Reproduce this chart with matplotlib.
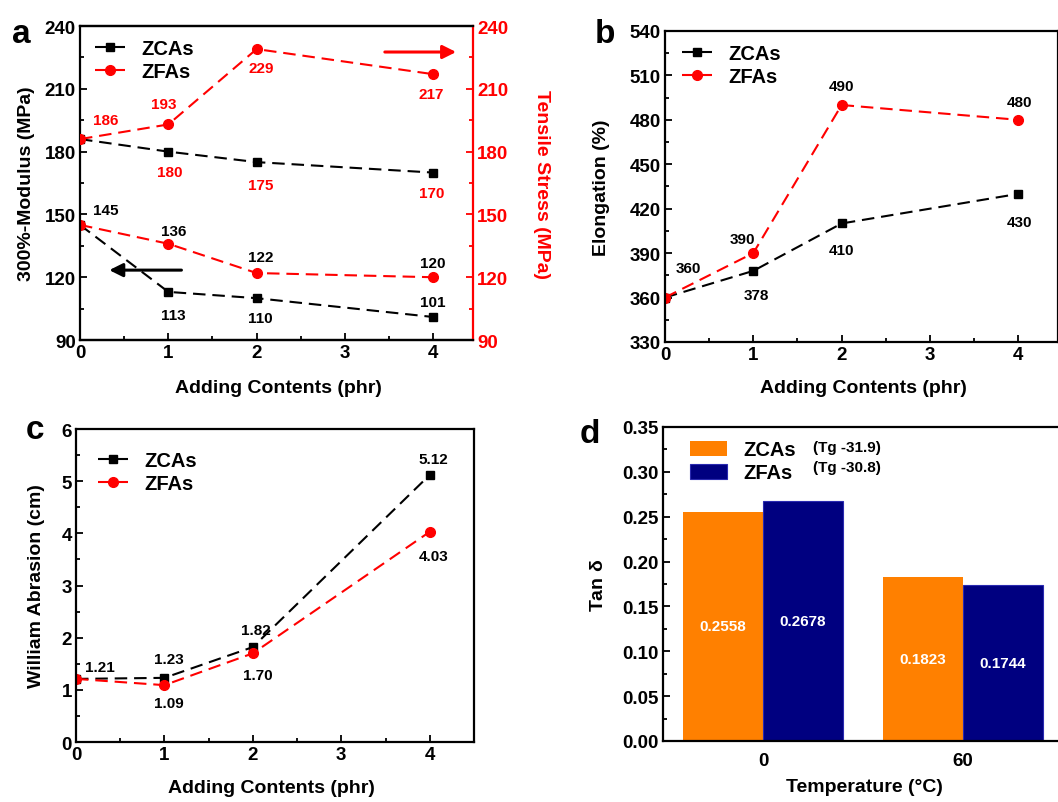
import numpy as np
import matplotlib
matplotlib.use('Agg')
import matplotlib.pyplot as plt
from matplotlib.ticker import MultipleLocator

plt.rcParams['font.family'] = ['Liberation Sans', 'DejaVu Sans']
plt.rcParams['font.weight'] = 'bold'
plt.rcParams['axes.labelweight'] = 'bold'
plt.rcParams['mathtext.default'] = 'regular'

# data
x_add = [0, 1, 2, 4]
mod_zcas = [145, 113, 110, 101]
mod_zfas = [145, 136, 122, 120]
ts_zcas = [186, 180, 175, 170]
ts_zfas = [186, 193, 229, 217]
elong_zcas = [360, 378, 410, 430]
elong_zfas = [360, 390, 490, 480]
abr_zcas = [1.21, 1.23, 1.82, 5.12]
abr_zfas = [1.21, 1.09, 1.70, 4.03]
temps = ['0', '60']
tan_zcas = [0.2558, 0.1823]
tan_zfas = [0.2678, 0.1744]
tg_zcas = '(Tg -31.9)'
tg_zfas = '(Tg -30.8)'

RED = '#ff0000'
ORANGE = '#ff8000'
NAVY = '#000080'
DASH = (0, (6, 3.3))
TICK = 13.5
LAB = 14
ANN = 11

fig = plt.figure(figsize=(10.58, 8.03), dpi=100)


def style(ax, xmaj, xmin, ymaj, ymin):
    ax.xaxis.set_major_locator(MultipleLocator(xmaj))
    if xmin:
        ax.xaxis.set_minor_locator(MultipleLocator(xmin))
    ax.yaxis.set_major_locator(MultipleLocator(ymaj))
    ax.yaxis.set_minor_locator(MultipleLocator(ymin))
    ax.tick_params(which='both', direction='in', width=1.3, labelsize=TICK, pad=3,
                   top=False, right=False)
    ax.tick_params(which='major', length=5)
    ax.tick_params(which='minor', length=3)
    for s in ax.spines.values():
        s.set_linewidth(1.6)


def label_pts(ax, xs, ys, fmt, offs, color):
    for x, y, o in zip(xs, ys, offs):
        if o is None:
            continue
        ax.annotate(fmt.format(y), (x, y), xytext=o, textcoords='offset pixels',
                    ha='center', va='center', fontsize=ANN, color=color,
                    fontweight='bold')


def lines(ax, yb, yr, lbl=True):
    ax.plot(x_add, yb, color='black', ls=DASH, lw=1.5, marker='s', ms=6,
            label='ZCAs' if lbl else None)
    ax.plot(x_add, yr, color=RED, ls=DASH, lw=1.5, marker='o', ms=7,
            label='ZFAs' if lbl else None)


def legend(ax, x, y):
    ax.legend(loc='upper left', bbox_to_anchor=(x, y), frameon=False, fontsize=14.5,
              borderpad=0, borderaxespad=0, handlelength=1.5, handletextpad=0.8,
              labelspacing=0.2)


# ---- panel a
ax = fig.add_axes([0.0756, 0.5753, 0.3715, 0.3910])
ax2 = ax.twinx()
lines(ax, mod_zcas, mod_zfas)
lines(ax2, ts_zcas, ts_zfas, lbl=False)
for a in (ax, ax2):
    a.set_xlim(0, 4.45)
    a.set_ylim(90, 240)
style(ax, 1, 0.5, 30, 15)
ax2.yaxis.set_major_locator(MultipleLocator(30))
ax2.yaxis.set_minor_locator(MultipleLocator(15))
ax2.tick_params(which='both', direction='in', width=1.3, labelsize=TICK, pad=3,
                colors=RED, left=False, right=True)
ax2.tick_params(which='major', length=5)
ax2.tick_params(which='minor', length=3)
for s in ax2.spines.values():
    s.set_linewidth(1.6)
ax2.spines['right'].set_color(RED)
ax2.spines['left'].set_visible(False)
ax.spines['right'].set_visible(False)

label_pts(ax, x_add, mod_zcas, '{:d}', [(26, 15), (5, -23), (4, -20), (-1, 15)], 'black')
label_pts(ax, x_add, mod_zfas, '{:d}', [None, (5, 13), (4, 16), (-1, 14)], 'black')
label_pts(ax2, x_add, ts_zcas, '{:d}', [None, (1, -20), (4, -23), (-2, -20)], RED)
label_pts(ax2, x_add, ts_zfas, '{:d}', [(26, 19), (-5, 20), (5, -19), (-2, -20)], RED)

ax.annotate('', xy=(0.30, 123.4), xytext=(1.18, 123.4),
            arrowprops=dict(arrowstyle='-|>', color='black', lw=2.2, mutation_scale=20))
ax2.annotate('', xy=(4.29, 227.6), xytext=(3.42, 227.6),
             arrowprops=dict(arrowstyle='-|>', color=RED, lw=2.2, mutation_scale=20))

ax.set_xlabel('Adding Contents (phr)', fontsize=LAB)
ax.xaxis.set_label_coords(0.505, -0.124)
ax.set_ylabel('300%-Modulus (MPa)', fontsize=LAB)
ax.yaxis.set_label_coords(-0.1145, 0.5)
ax2.set_ylabel('Tensile Stress (MPa)', fontsize=LAB, color=RED, rotation=270,
               va='bottom')
ax2.yaxis.set_label_coords(1.153, 0.5)
legend(ax, 0.038, 0.958)

# ---- panel b
bx = fig.add_axes([0.6285, 0.5729, 0.3715, 0.3873])
lines(bx, elong_zcas, elong_zfas)
bx.set_xlim(0, 4.45)
bx.set_ylim(330, 540)
style(bx, 1, 0.5, 30, 15)
label_pts(bx, x_add, elong_zcas, '{:d}', [(23, 30), (3, -24), (0, -27), (1, -28)], 'black')
label_pts(bx, x_add, elong_zfas, '{:d}', [None, (-11, 14), (0, 19), (1, 18)], 'black')
bx.set_xlabel('Adding Contents (phr)', fontsize=LAB)
bx.xaxis.set_label_coords(0.504, -0.119)
bx.set_ylabel('Elongation (%)', fontsize=LAB)
bx.yaxis.set_label_coords(-0.14, 0.5)
legend(bx, 0.043, 0.958)

# ---- panel c
cx = fig.add_axes([0.0718, 0.0747, 0.3762, 0.3898])
lines(cx, abr_zcas, abr_zfas)
cx.set_xlim(0, 4.5)
cx.set_ylim(0, 6)
style(cx, 1, 0.5, 1, 0.5)
label_pts(cx, x_add, abr_zcas, '{:.2f}', [(24, 12), (4, 19), (3, 17), (4, 16)], 'black')
label_pts(cx, x_add, abr_zfas, '{:.2f}', [None, (4, -18), (5, -22), (4, -24)], 'black')
cx.set_xlabel('Adding Contents (phr)', fontsize=LAB)
cx.xaxis.set_label_coords(0.49, -0.118)
cx.set_ylabel('William Abrasion (cm)', fontsize=LAB)
cx.yaxis.set_label_coords(-0.078, 0.5)
legend(cx, 0.056, 0.93)

# ---- panel d
dx = fig.add_axes([0.6267, 0.0760, 0.3781, 0.3910])
pos = np.arange(len(temps))
b1 = dx.bar(pos - 0.2, tan_zcas, 0.4, color=ORANGE, label='ZCAs')
b2 = dx.bar(pos + 0.2, tan_zfas, 0.4, color=NAVY, edgecolor='#2a2ab0', lw=0.8,
            label='ZFAs')
for bars, vals in ((b1, tan_zcas), (b2, tan_zfas)):
    for r, v in zip(bars, vals):
        dx.text(r.get_x() + r.get_width() / 2, v / 2, f'{v:.4f}', ha='center',
                va='center', color='white', fontsize=ANN, fontweight='bold')
dx.set_xlim(-0.5, 1.5)
dx.set_ylim(0, 0.35)
style(dx, 1, None, 0.05, 0.025)
dx.set_xticks(pos)
dx.set_xticklabels(temps)
dx.tick_params(axis='x', which='both', length=0, pad=8)
dx.yaxis.set_major_formatter(matplotlib.ticker.FormatStrFormatter('%.2f'))
dx.set_xlabel('Temperature (°C)', fontsize=LAB)
dx.xaxis.set_label_coords(0.5025, -0.118)
dx.set_ylabel(r'Tan $\delta$', fontsize=LAB)
dx.yaxis.set_label_coords(-0.14, 0.5)
dx.legend(loc='upper left', bbox_to_anchor=(0.0675, 0.958), frameon=False,
          fontsize=14.5, borderpad=0, borderaxespad=0, handlelength=1.85,
          handleheight=0.75, handletextpad=0.8, labelspacing=0.2)
dx.text(0.375, 0.936, tg_zcas, transform=dx.transAxes, ha='left', va='center',
        fontsize=11, fontweight='bold')
dx.text(0.375, 0.873, tg_zfas, transform=dx.transAxes, ha='left', va='center',
        fontsize=11, fontweight='bold')

# panel letters
for t, x, y in (('a', 0.0113, 0.946), ('b', 0.5624, 0.946),
                ('c', 0.0246, 0.453), ('d', 0.548, 0.448)):
    fig.text(x, y, t, fontsize=24, fontweight='bold', va='baseline')

fig.savefig('out.png', dpi=100)
